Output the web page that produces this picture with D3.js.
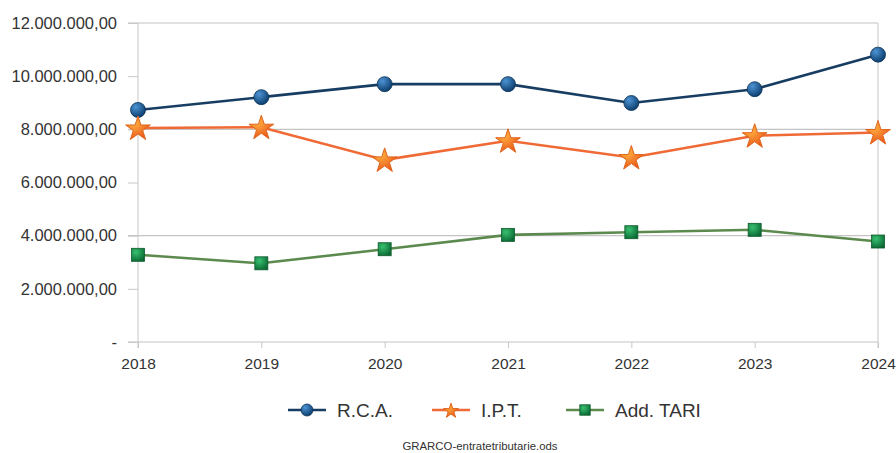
<!DOCTYPE html>
<html>
<head>
<meta charset="utf-8">
<script src="https://cdn.jsdelivr.net/npm/d3@7"></script>
<style>
body { margin: 0; background: #fff; }
text { font-family: "Liberation Sans", Arial, sans-serif; fill: #333; }
</style>
</head>
<body>
<div id="chart"></div>
<script>
const w = 896;
const h = 453;

// data
const years = ["2018", "2019", "2020", "2021", "2022", "2023", "2024"];
const rca = [8730000, 9210000, 9700000, 9700000, 8990000, 9510000, 10810000];
const ipt = [8050000, 8080000, 6850000, 7570000, 6940000, 7760000, 7880000];
const tari = [3280000, 2960000, 3490000, 4030000, 4130000, 4220000, 3780000];
const seriesNames = ["R.C.A.", "I.P.T.", "Add. TARI"];
const yTicks = [0, 2000000, 4000000, 6000000, 8000000, 10000000, 12000000];
const gridTicks = [0, 4000000, 8000000, 12000000];

const padL = 138, padR = 878, padT = 23, padB = 342;

const svg = d3.select("#chart").append("svg")
  .attr("width", w).attr("height", h);

const defs = svg.append("defs");
const grad = (id, c1, c2) => {
  const g = defs.append("radialGradient").attr("id", id)
    .attr("cx", "35%").attr("cy", "30%").attr("r", "75%");
  g.append("stop").attr("offset", "0%").attr("stop-color", c1);
  g.append("stop").attr("offset", "100%").attr("stop-color", c2);
};
grad("gBlue", "#4c93d4", "#0a3b6a");
grad("gOrange", "#ffb040", "#e8541a");
grad("gGreen", "#38c070", "#0b6a34");

const x = d3.scalePoint().domain(years).range([padL, padR]);
const y = d3.scaleLinear().domain([0, 12000000]).range([padB, padT]);

// grid
svg.append("g").selectAll("line").data(gridTicks).enter().append("line")
  .attr("x1", padL - 10).attr("x2", padR)
  .attr("y1", d => y(d)).attr("y2", d => y(d))
  .attr("stroke", "#c4c4c4").attr("stroke-width", 1.2);
svg.append("g").selectAll("line").data([years[0], years[years.length - 1]]).enter().append("line")
  .attr("x1", d => x(d)).attr("x2", d => x(d))
  .attr("y1", padT).attr("y2", padB + 6)
  .attr("stroke", "#d0d0d0").attr("stroke-width", 1.2);

// y axis
const fmt = d => d === 0 ? "-" :
  d3.format(",.2f")(d).replace(/,/g, "#").replace(".", ",").replace(/#/g, ".");
const yAxis = d3.axisLeft(y).tickValues(yTicks).tickFormat(fmt).tickSize(10).tickPadding(11);
const gy = svg.append("g").attr("transform", `translate(${padL},0)`).call(yAxis);
gy.select(".domain").remove();
gy.selectAll(".tick line").attr("stroke", "#c8c8c8");
gy.selectAll(".tick text").style("font-size", "16.5px").attr("fill", "#333")
  .style("font-family", "'Liberation Sans', Arial, sans-serif");

// x axis
const xAxis = d3.axisBottom(x).tickSize(6).tickPadding(10);
const gx = svg.append("g").attr("transform", `translate(0,${padB})`).call(xAxis);
gx.select(".domain").remove();
gx.selectAll(".tick line").attr("stroke", "#c8c8c8");
gx.selectAll(".tick text").style("font-size", "15.5px").attr("fill", "#333")
  .style("font-family", "'Liberation Sans', Arial, sans-serif");

const line = d3.line().x((d, i) => x(years[i])).y(d => y(d));

const series = [
  { name: seriesNames[0], vals: rca, color: "#173d62", marker: "circle", fill: "url(#gBlue)" },
  { name: seriesNames[1], vals: ipt, color: "#f06a35", marker: "star", fill: "url(#gOrange)" },
  { name: seriesNames[2], vals: tari, color: "#5c8a4e", marker: "square", fill: "url(#gGreen)" }
];

function drawMarker(g, s, cx, cy, scale) {
  if (s.marker === "circle") {
    g.append("circle").attr("cx", cx).attr("cy", cy).attr("r", 7.5 * scale)
      .attr("fill", s.fill).attr("stroke", "#0d3357").attr("stroke-width", 0.8);
  } else if (s.marker === "star") {
    g.append("path").attr("d", d3.symbol().type(d3.symbolStar).size(190 * scale * scale)())
      .attr("transform", `translate(${cx},${cy + 1})`)
      .attr("fill", s.fill).attr("stroke", "#e0661c").attr("stroke-width", 1);
  } else {
    const sz = 13 * scale;
    g.append("rect").attr("x", cx - sz / 2).attr("y", cy - sz / 2)
      .attr("width", sz).attr("height", sz)
      .attr("fill", s.fill).attr("stroke", "#0d5a2c").attr("stroke-width", 0.8);
  }
}

series.forEach(s => {
  svg.append("path").datum(s.vals).attr("d", line)
    .attr("fill", "none").attr("stroke", s.color).attr("stroke-width", 2.6);
  const g = svg.append("g");
  s.vals.forEach((v, i) => drawMarker(g, s, x(years[i]), y(v), 1));
});

// legend
const legX = [288, 432, 566];
const legY = 410;
series.forEach((s, i) => {
  const g = svg.append("g");
  g.append("line").attr("x1", legX[i]).attr("x2", legX[i] + 38)
    .attr("y1", legY).attr("y2", legY)
    .attr("stroke", s.color).attr("stroke-width", 2.6);
  drawMarker(g, s, legX[i] + 19, legY, s.marker === "star" ? 0.6 : 0.8);
  g.append("text").attr("x", legX[i] + 49).attr("y", legY + 7)
    .style("font-size", "19px").text(s.name);
});

// file caption
svg.append("text").attr("x", 480).attr("y", 450).attr("text-anchor", "middle")
  .style("font-size", "11.4px")
  .text("GRARCO-entratetributarie.ods");
</script>
</body>
</html>
